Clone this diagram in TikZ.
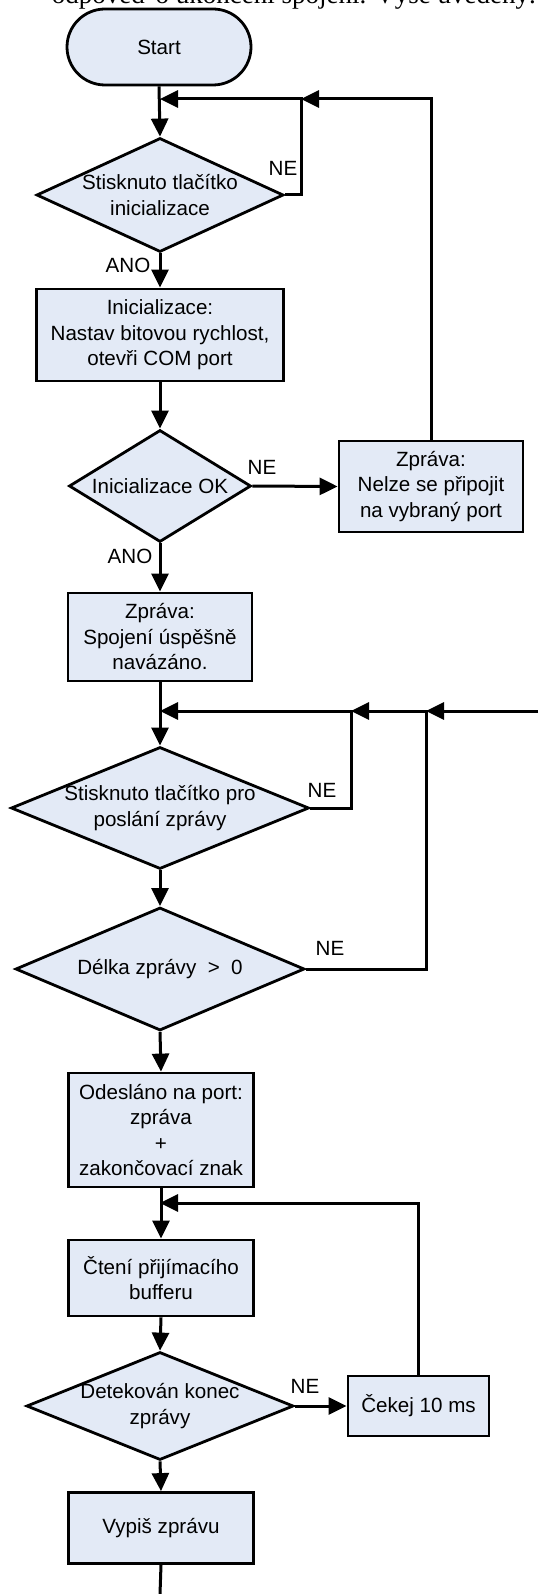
\documentclass[tikz,border=0pt]{standalone}
\usepackage{fontspec}
\setmainfont{Liberation Sans}
\newfontfamily\serifpart{Liberation Serif}
\usetikzlibrary{arrows.meta,shapes.geometric}
\definecolor{boxfill}{RGB}{227,234,246}
\tikzset{
  every node/.style={font=\fontsize{20.6}{25.5}\selectfont},
  procbox/.style={draw=black, fill=boxfill, line width=2.8pt, align=center, inner sep=0pt},
  decbox/.style={draw=black, fill=boxfill, line width=2.8pt, shape=diamond, inner sep=0pt, aspect=1},
  flow/.style={line width=3pt, -{Triangle[length=18pt,width=17pt]}},
  plainline/.style={line width=3pt},
  lbl/.style={inner sep=0pt}
}
\begin{document}
\begin{tikzpicture}[x=1pt,y=-1pt]
\useasboundingbox (0,0) rectangle (538,1594);
\begin{scope}
\clip (0,0) rectangle (538,12);
\node[anchor=base east, inner sep=0pt, font=\serifpart\fontsize{27}{30}\selectfont] (toptext) at (536,4) {odpověď o ukončení spojení. Výše uvedený.};
\end{scope}

% nodes
\node[procbox, rounded corners=38pt, minimum width=184pt, minimum height=76pt] (start) at (159,47) {Start};
\node[decbox, minimum width=247pt, minimum height=114pt, label={[align=center]center:Stisknuto tlačítko\\inicializace}] (d1) at (160,195) {};
\node[procbox, minimum width=247pt, minimum height=92pt] (b1) at (160,335) {Inicializace:\\Nastav bitovou rychlost,\\otevři COM port};
\node[decbox, minimum width=182pt, minimum height=112pt, label={[align=center]center:Inicializace OK}] (d2) at (160,486) {};
\node[procbox, minimum width=184pt, minimum height=91pt] (b2) at (431,486.5) {Zpráva:\\Nelze se připojit\\na vybraný port};
\node[procbox, minimum width=184pt, minimum height=88pt] (b3) at (160,637) {Zpráva:\\Spojení úspěšně\\navázáno.};
\node[decbox, minimum width=298pt, minimum height=122pt, label={[align=center]center:Stisknuto tlačítko pro\\poslání zprávy}] (d3) at (160,808) {};
\node[decbox, minimum width=289pt, minimum height=123pt, label={[align=center]center:Délka zprávy~~>~~0}] (d4) at (160,969) {};
\node[procbox, minimum width=185pt, minimum height=114pt] (b4) at (161,1130) {Odesláno na port:\\zpráva\\+\\zakončovací znak};
\node[procbox, minimum width=185pt, minimum height=76pt] (b5) at (161,1278) {Čtení přijímacího\\bufferu};
\node[decbox, minimum width=267pt, minimum height=108pt, label={[align=center]center:Detekován konec\\zprávy}] (d5) at (160,1406) {};
\node[procbox, minimum width=141pt, minimum height=60pt] (b6) at (418.5,1406) {Čekej 10 ms};
\node[procbox, minimum width=185pt, minimum height=71pt] (b7) at (161,1528) {Vypiš zprávu};

% junction coordinates
\coordinate (j1) at (160,99);
\coordinate (c1) at (301,99);
\coordinate (j2) at (160,711);
\coordinate (c2) at (351,711);
\coordinate (c3) at (426,711);
\coordinate (redge) at (538,711);
\coordinate (j3) at (160,1203);
\coordinate (bend) at (160,1594);

% connectors
\draw[flow] (start.south) -- (d1.north);
\draw[flow] (d1.east) -| (c1) -- (j1);
\draw[flow] (b2.north) |- (c1);
\draw[flow] (d1.south) -- (b1.north);
\draw[flow] (b1.south) -- (d2.north);
\draw[flow] (d2.east) -- (b2.west);
\draw[flow] (d2.south) -- (b3.north);
\draw[flow] (b3.south) -- (d3.north);
\draw[flow] (d3.east) -| (c2) -- (j2);
\draw[flow] (d4.east) -| (c3) -- (c2);
\draw[flow] (redge) -- (c3);
\draw[flow] (d3.south) -- (d4.north);
\draw[flow] (d4.south) -- (b4.north);
\draw[flow] (b4.south) -- (b5.north);
\draw[flow] (b6.north) |- (j3);
\draw[flow] (b5.south) -- (d5.north);
\draw[flow] (d5.east) -- (b6.west);
\draw[flow] (d5.south) -- (b7.north);
\draw[plainline] (b7.south) -- (bend);

% labels
\node[lbl] (ne1) at (283,168) {NE};
\node[lbl] (ano1) at (128,265) {ANO};
\node[lbl] (ne2) at (262,467) {NE};
\node[lbl] (ano2) at (130,556) {ANO};
\node[lbl] (ne3) at (322,790) {NE};
\node[lbl] (ne4) at (330,948) {NE};
\node[lbl] (ne5) at (305,1386) {NE};
\end{tikzpicture}
\end{document}
